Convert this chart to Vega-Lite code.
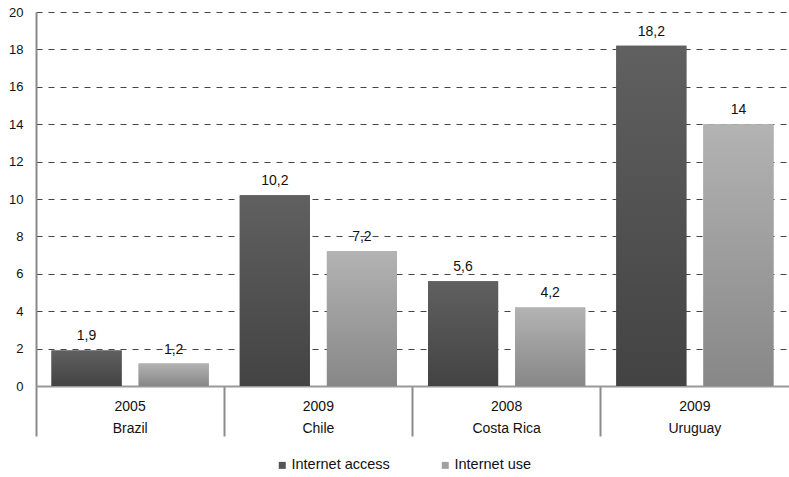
{
  "$schema": "https://vega.github.io/schema/vega-lite/v6.json",
  "width": 753,
  "height": 374,
  "autosize": "none",
  "padding": {"left": 36, "top": 12, "right": 0, "bottom": 91},
  "config": {
    "locale": {"number": {"decimal": ",", "thousands": ".", "grouping": [3], "currency": ["", ""]}},
    "view": {"stroke": null},
    "font": "Liberation Sans"
  },
  "data": {
    "values": [
      {"group": "2005|Brazil", "series": "Internet access", "value": 1.9},
      {"group": "2005|Brazil", "series": "Internet use", "value": 1.2},
      {"group": "2009|Chile", "series": "Internet access", "value": 10.2},
      {"group": "2009|Chile", "series": "Internet use", "value": 7.2},
      {"group": "2008|Costa Rica", "series": "Internet access", "value": 5.6},
      {"group": "2008|Costa Rica", "series": "Internet use", "value": 4.2},
      {"group": "2009|Uruguay", "series": "Internet access", "value": 18.2},
      {"group": "2009|Uruguay", "series": "Internet use", "value": 14}
    ]
  },
  "encoding": {
    "x": {
      "field": "group",
      "type": "nominal",
      "sort": null,
      "scale": {"paddingInner": 0, "paddingOuter": 0},
      "axis": {
        "title": null,
        "labelAngle": 0,
        "labelExpr": "split(datum.label, '|')",
        "labelFontSize": 14,
        "labelLineHeight": 22,
        "labelColor": "#111",
        "labelBaseline": "top",
        "labelPadding": -37,
        "domainColor": "#999",
        "domainWidth": 2,
        "tickColor": "#8a8a8a",
        "tickWidth": 2,
        "tickSize": 50,
        "bandPosition": 0,
        "grid": false
      }
    },
    "xOffset": {
      "field": "series",
      "sort": ["Internet access", "Internet use"],
      "scale": {"paddingInner": 0.195, "paddingOuter": 0.178}
    },
    "y": {
      "field": "value",
      "type": "quantitative",
      "scale": {"domain": [0, 20], "nice": false},
      "axis": {
        "title": null,
        "values": [0, 2, 4, 6, 8, 10, 12, 14, 16, 18, 20],
        "ticks": false,
        "labelPadding": 13,
        "labelFontSize": 13,
        "labelColor": "#111",
        "domainColor": "#8a8a8a",
        "domainWidth": 2,
        "grid": true,
        "gridColor": "#444",
        "gridDash": [6, 6],
        "gridWidth": 1
      }
    }
  },
  "layer": [
    {
      "mark": {"type": "bar"},
      "encoding": {
        "color": {
          "field": "series",
          "type": "nominal",
          "sort": ["Internet access", "Internet use"],
          "scale": {"range": ["#555555", "#a0a0a0"]},
          "legend": {
            "title": null,
            "orient": "none",
            "direction": "horizontal",
            "legendX": 239,
            "legendY": 446,
            "symbolType": "square",
            "symbolSize": 49,
            "symbolStrokeWidth": 0,
            "labelFontSize": 14.5,
            "labelColor": "#111",
            "labelOffset": 2,
            "columnPadding": 48,
            "padding": 0
          }
        }
      }
    },
    {
      "transform": [{"filter": "datum.series === 'Internet access'"}],
      "mark": {
        "type": "bar",
        "fill": {
          "gradient": "linear", "x1": 0, "y1": 0, "x2": 0, "y2": 1,
          "stops": [{"offset": 0, "color": "#606060"}, {"offset": 1, "color": "#434343"}]
        }
      }
    },
    {
      "transform": [{"filter": "datum.series === 'Internet use'"}],
      "mark": {
        "type": "bar",
        "fill": {
          "gradient": "linear", "x1": 0, "y1": 0, "x2": 0, "y2": 1,
          "stops": [{"offset": 0, "color": "#b3b3b3"}, {"offset": 1, "color": "#878787"}]
        }
      }
    },
    {
      "mark": {"type": "text", "baseline": "bottom", "dy": -7, "fontSize": 14, "color": "#111"},
      "encoding": {
        "text": {"field": "value", "type": "quantitative", "format": "~g"}
      }
    }
  ]
}
